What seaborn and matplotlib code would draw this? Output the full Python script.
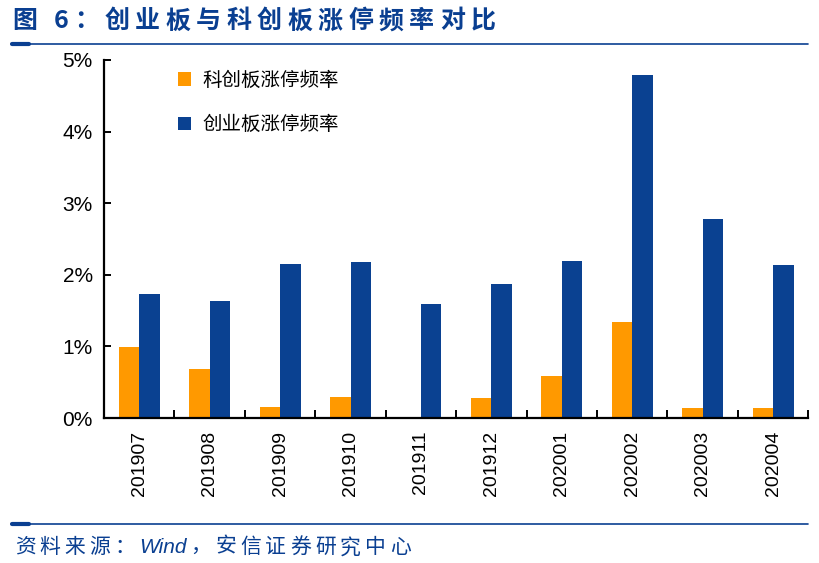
import re
import pandas as pd
import numpy as np
import matplotlib.pyplot as plt
import matplotlib.ticker as mticker
import seaborn as sns

sns.set_theme(style="white")
plt.rcParams['font.family'] = ['Liberation Sans', 'Noto Sans CJK SC', 'DejaVu Sans']

months = ["201907", "201908", "201909", "201910", "201911",
          "201912", "202001", "202002", "202003", "202004"]
star_rate = [0.99, 0.68, 0.16, 0.30, 0.0, 0.28, 0.59, 1.34, 0.14, 0.14]
gem_rate = [1.73, 1.63, 2.15, 2.18, 1.59, 1.87, 2.19, 4.79, 2.78, 2.14]

SERIES = ["科创板涨停频率", "创业板涨停频率"]
COLORS = ["#FF9900", "#0A4191"]
NAVY = "#0A3F91"
TITLE = "图 6：创业板与科创板涨停频率对比"
SOURCE = "资料来源：Wind，安信证券研究中心"

df = pd.DataFrame({
    "month": months * 2,
    "rate": star_rate + gem_rate,
    "series": [SERIES[0]] * len(months) + [SERIES[1]] * len(months),
})

fig = plt.figure(figsize=(8.19, 5.63), dpi=100)
ax = fig.add_axes([0.127, 0.2575, 0.86, 0.636])

sns.barplot(data=df, x="month", y="rate", hue="series", palette=COLORS,
            width=0.58, saturation=1, ax=ax, edgecolor="none")

ax.set_ylim(0, 5)
ax.set_xlim(-0.5, len(months) - 0.5)
ax.yaxis.set_major_locator(mticker.MultipleLocator(1))
ax.yaxis.set_major_formatter(mticker.FuncFormatter(lambda v, p: f"{v:.0f}%"))
ax.set_xlabel("")
ax.set_ylabel("")

for s in ["top", "right"]:
    ax.spines[s].set_visible(False)
for s in ["left", "bottom"]:
    ax.spines[s].set_color("black")
    ax.spines[s].set_linewidth(1.6)

ax.tick_params(axis="y", direction="in", length=5, width=1.4, color="black",
               left=True, labelsize=15, pad=8)
ax.tick_params(axis="x", which="major", length=0, labelsize=14, labelrotation=90, pad=9)
ax.set_xticks(np.arange(len(months) + 1) - 0.5, minor=True)
ax.tick_params(axis="x", which="minor", direction="in", length=6, width=1.4,
               color="black", bottom=True)
for lbl in ax.get_xticklabels() + ax.get_yticklabels():
    lbl.set_color("black")

leg = ax.legend(loc="upper left", bbox_to_anchor=(0.08, 1.017), frameon=False,
                fontsize=14, handlelength=0.7, handleheight=0.7,
                labelspacing=1.35, handletextpad=0.55)
for t in leg.get_texts():
    t.set_color("black")

renderer = fig.canvas.get_renderer()
fig_w = fig.get_figwidth() * fig.dpi


def spaced_text(x, y, s, gap_px, **kw):
    # CJK characters get extra spacing, latin runs stay together
    for piece in re.findall(r"[A-Za-z0-9]+| |.", s):
        t = fig.text(x, y, piece, ha="left", va="center", **kw)
        if piece == " ":
            w = kw.get("fontsize", 12) * 0.3
        else:
            w = t.get_window_extent(renderer).width
        x += (w + gap_px) / fig_w


cjk = ['Noto Sans CJK SC', 'DejaVu Sans']
spaced_text(0.015, 0.962, TITLE, 5.5, color=NAVY, fontsize=18,
            fontweight="heavy", family=cjk)

for y in [0.921, 0.069]:
    fig.add_artist(plt.Line2D([0.015, 0.987], [y, y], color=NAVY, lw=1.2))
    fig.add_artist(plt.Line2D([0.015, 0.035], [y, y], color=NAVY, lw=3))

spaced_text(0.018, 0.028, SOURCE, 4, color=NAVY, fontsize=15,
            family=['Liberation Sans', 'Noto Sans CJK SC', 'DejaVu Sans'],
            style="italic")

fig.savefig("out.png", dpi=100)
